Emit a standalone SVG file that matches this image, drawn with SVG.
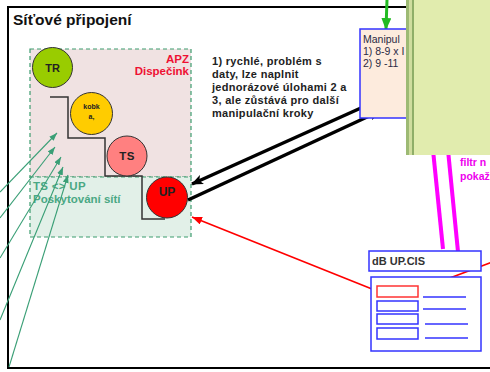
<svg xmlns="http://www.w3.org/2000/svg" width="490" height="372" viewBox="0 0 490 372">
<defs>
<style>
text{font-family:"Liberation Sans",Arial,sans-serif}
.b{font-weight:bold}
.node circle{stroke:#333;stroke-width:1}
.zone{stroke:#3d9c6e;stroke-width:1.2;stroke-dasharray:4,3}
.blue{fill:#fff;stroke:#3333ff;stroke-width:1.5}
.gl{stroke:#3a9f76;stroke-width:1.1;fill:none}
</style>
<marker id="ak" markerUnits="userSpaceOnUse" markerWidth="12" markerHeight="10" refX="11" refY="5" orient="auto"><path d="M0,0 L12,5 L0,10 L3,5 z" fill="#000"/></marker>
<marker id="ag" markerUnits="userSpaceOnUse" markerWidth="8" markerHeight="6" refX="8" refY="3" orient="auto"><path d="M0,0 L8,3 L0,6 z" fill="#3a9f76"/></marker>
<marker id="ar" markerUnits="userSpaceOnUse" markerWidth="10" markerHeight="8" refX="10" refY="4" orient="auto"><path d="M0,0 L10,4 L0,8 z" fill="#ff0000"/></marker>
<marker id="agr" markerUnits="userSpaceOnUse" markerWidth="12" markerHeight="10" refX="11" refY="5" orient="auto"><path d="M0,0 L12,5 L0,10 z" fill="#22bb22"/></marker>
<marker id="am" markerUnits="userSpaceOnUse" markerWidth="12" markerHeight="10" refX="11" refY="5" orient="auto"><path d="M0,0 L12,5 L0,10 z" fill="#ff00ff"/></marker>
</defs>
<rect width="490" height="372" fill="#fff"/>

<g id="frame">
<rect x="8" y="7" width="500" height="361" fill="none" stroke="#000" stroke-width="2"/>
<text x="13" y="25" class="b" font-size="15.5" fill="#111">Síťové připojení</text>
</g>

<g id="zone-apz">
<rect x="30" y="49" width="161" height="128" fill="#f0e2e2" class="zone"/>
<text x="189" y="63" class="b" font-size="11.5" fill="#ee1133" text-anchor="end">APZ</text>
<text x="189" y="75" class="b" font-size="11.5" fill="#ee1133" text-anchor="end">Dispečink</text>
</g>
<g id="zone-net">
<rect x="30" y="177" width="161" height="60" fill="#e2f0e8" class="zone"/>
<text x="33" y="190" class="b" font-size="11.5" fill="#4aa884" letter-spacing="0.3">TS &lt;&gt; UP</text>
<text x="33" y="203" class="b" font-size="11.5" fill="#4aa884">Poskytování sítí</text>
</g>

<g id="connectors">
<path d="M50,97 H68 V138 H105 V176 H142 V219 H165" fill="none" stroke="#333" stroke-width="1.5"/>
<line x1="0" y1="192" x2="57" y2="133" class="gl" marker-end="url(#ag)"/>
<line x1="0" y1="218" x2="55" y2="147" class="gl" marker-end="url(#ag)"/>
<line x1="0" y1="258" x2="61" y2="157" class="gl" marker-end="url(#ag)"/>
<line x1="0" y1="320" x2="63" y2="167" class="gl" marker-end="url(#ag)"/>
<line x1="9" y1="367" x2="68" y2="175" class="gl" marker-end="url(#ag)"/>
<line x1="372" y1="103" x2="192" y2="184" stroke="#000" stroke-width="3.5" marker-end="url(#ak)"/>
<line x1="188" y1="200" x2="380" y2="111" stroke="#000" stroke-width="3.5" marker-end="url(#ak)"/>
<line x1="377" y1="291" x2="192" y2="217" stroke="#ff0000" stroke-width="1.8" marker-end="url(#ar)"/>
<line x1="418" y1="290" x2="495" y2="261" stroke="#ff0000" stroke-width="1.8"/>
<line x1="387" y1="0" x2="386" y2="29" stroke="#22bb22" stroke-width="3" marker-end="url(#agr)"/>
<line x1="433" y1="150" x2="443" y2="249" stroke="#ff00ff" stroke-width="4"/>
<line x1="448" y1="150" x2="459" y2="262" stroke="#ff00ff" stroke-width="4" marker-end="url(#am)"/>
</g>

<g id="node-tr" class="node">
<circle cx="52.5" cy="67.5" r="20" fill="#99cc00"/>
<text x="52.5" y="72" class="b" font-size="11" text-anchor="middle" fill="#222">TR</text>
</g>
<g id="node-kobka" class="node">
<circle cx="91.5" cy="113.5" r="21" fill="#ffcc00"/>
<text x="91.5" y="109" class="b" font-size="7" text-anchor="middle" fill="#222">kobk</text>
<text x="91.5" y="119" class="b" font-size="7" text-anchor="middle" fill="#222">a,</text>
</g>
<g id="node-ts" class="node">
<circle cx="127" cy="156" r="20" fill="#ff8080"/>
<text x="127" y="160" class="b" font-size="11.5" text-anchor="middle" fill="#222" letter-spacing="0.5">TS</text>
</g>
<g id="node-up" class="node">
<circle cx="167" cy="197.5" r="20.5" fill="#ff0000"/>
<text x="167" y="196" class="b" font-size="12" text-anchor="middle" fill="#222">UP</text>
</g>

<g id="note">
<g class="b" font-size="11" fill="#222" letter-spacing="0.3">
<text x="212" y="65">1) rychlé, problém s</text>
<text x="212" y="78">daty, lze naplnit</text>
<text x="212" y="91">jednorázové úlohami 2 a</text>
<text x="212" y="104">3, ale zůstává pro další</text>
<text x="212" y="117">manipulační kroky</text>
</g>
</g>

<g id="node-manipul">
<rect x="360" y="29" width="70" height="89" fill="#fdebdd" stroke="#3333ff" stroke-width="1.5"/>
<text x="363" y="43" font-size="10.5" fill="#2a2a44">Manipul</text>
<text x="363" y="55" font-size="10.5" fill="#2a2a44">1) 8-9 x I</text>
<text x="363" y="67" font-size="10.5" fill="#2a2a44">2) 9 -11</text>
</g>

<g id="panel">
<rect x="406" y="-2" width="90" height="157" fill="#e1ecae"/>
<rect x="406" y="-2" width="3" height="157" fill="#9dba74"/>
<rect x="409" y="-2" width="3" height="157" fill="#cfdd9e"/>
<rect x="412" y="-2" width="2" height="157" fill="#8fae68"/>
</g>

<g id="filter-label">
<text x="460" y="166" class="b" font-size="10.5" fill="#ee00ee">filtr n</text>
<text x="460" y="180" class="b" font-size="10.5" fill="#ee00ee">pokaž</text>
</g>

<g id="node-db">
<rect x="369" y="251" width="112" height="20" class="blue"/>
<text x="372" y="265" class="b" font-size="11" fill="#333">dB UP.CIS</text>
<rect x="371" y="277" width="110" height="74" class="blue"/>
<rect x="377" y="286" width="41" height="11" fill="#fff" stroke="#ff3333" stroke-width="1.5"/>
<rect x="377" y="301" width="41" height="10" class="blue"/>
<rect x="377" y="314" width="41" height="10" class="blue"/>
<rect x="377" y="328" width="41" height="11" class="blue"/>
<g stroke="#3333ff" stroke-width="1.5">
<line x1="423" y1="297" x2="466" y2="297"/>
<line x1="423" y1="309" x2="466" y2="309"/>
<line x1="425" y1="324" x2="468" y2="324"/>
<line x1="425" y1="338" x2="468" y2="338"/>
</g>
</g>
</svg>
